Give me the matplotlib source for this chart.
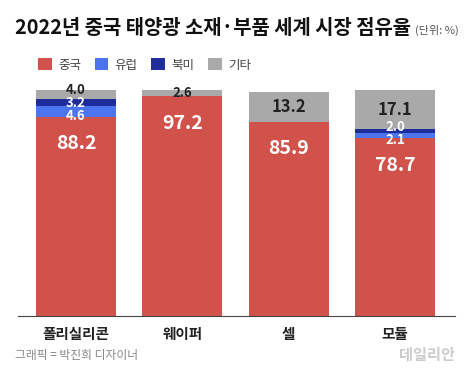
import numpy as np
import matplotlib.pyplot as plt

plt.rcParams['font.family'] = ['Noto Sans CJK KR', 'DejaVu Sans']

categories = ['폴리실리콘', '웨이퍼', '셀', '모듈']
series_names = ['중국', '유럽', '북미', '기타']
china = [88.2, 97.2, 85.9, 78.7]
europe = [4.6, 0.0, 0.0, 2.1]
namerica = [3.2, 0.0, 0.0, 2.0]
others = [4.0, 2.6, 13.2, 17.1]
colors = ['#D0524A', '#4B74EE', '#1E2C9C', '#A9A9A9']

fig = plt.figure(figsize=(4.7, 3.75), dpi=100)
ax = fig.add_axes([18 / 470, 59 / 375, 437 / 470, 226 / 375])

x = np.arange(len(categories))
width = 0.75
bottom = np.zeros(len(categories))
small = [[] for _ in categories]  # thin segment labels per bar
for name, vals, col in zip(series_names, [china, europe, namerica, others], colors):
    vals = np.array(vals)
    ax.bar(x, vals, width, bottom=bottom, color=col, label=name)
    for i, v in enumerate(vals):
        if v <= 0:
            continue
        tc = '#222222' if name == '기타' else 'white'
        if name == '중국':
            ax.text(x[i], bottom[i] + v - 12, f'{v:.1f}', ha='center', va='center',
                    color='white', fontsize=14, fontweight='bold')
        elif v > 10:
            ax.text(x[i], bottom[i] + v / 2, f'{v:.1f}', ha='center', va='center',
                    color=tc, fontsize=12, fontweight='bold')
        else:
            small[i].append([bottom[i] + v / 2, v, tc])
    bottom += vals

# spread thin labels so they don't pile up
gap = 5.8
for i, grp in enumerate(small):
    if not grp:
        continue
    ys = np.array([g[0] for g in grp])
    if len(ys) > 1 and np.min(np.diff(ys)) < gap:
        m = ys.mean()
        ys = m + (np.arange(len(ys)) - (len(ys) - 1) / 2) * gap
    for y, g in zip(ys, grp):
        ax.text(x[i], y, f'{g[1]:.1f}', ha='center', va='center', color=g[2],
                fontsize=9.5, fontweight='bold')

ax.set_xlim(-0.546, 3.565)
ax.set_ylim(0, 100)
for s in ['top', 'right', 'left']:
    ax.spines[s].set_visible(False)
ax.spines['bottom'].set_color('#444444')
ax.spines['bottom'].set_linewidth(0.8)
ax.set_yticks([])
ax.set_xticks(x)
ax.set_xticklabels(categories, fontsize=10.5, fontweight='bold', color='#222222')
ax.tick_params(axis='x', length=0, pad=7)

leg = ax.legend(loc='upper left', bbox_to_anchor=(0.02, 1.19), ncol=4, frameon=False,
                fontsize=9, handlelength=1.1, handleheight=1.1, handletextpad=0.5,
                columnspacing=1.1)
for t in leg.get_texts():
    t.set_color('#444444')

fig.text(15 / 470, 1 - 28 / 375, '2022년 중국 태양광 소재·부품 세계 시장 점유율',
         fontsize=14.3, fontweight='bold', color='#111111', va='center')
fig.text(415 / 470, 1 - 30 / 375, '(단위: %)', fontsize=8, color='#555555', va='center')
fig.text(15 / 470, 1 - 355 / 375, '그래픽 = 박진희 디자이너', fontsize=8.5, color='#888888',
         style='italic', va='center')
fig.text(455 / 470, 1 - 355 / 375, '데일리안', fontsize=11, color='#CCCCCC',
         fontweight='bold', ha='right', va='center')

fig.savefig('out.png', dpi=100, facecolor='white')
